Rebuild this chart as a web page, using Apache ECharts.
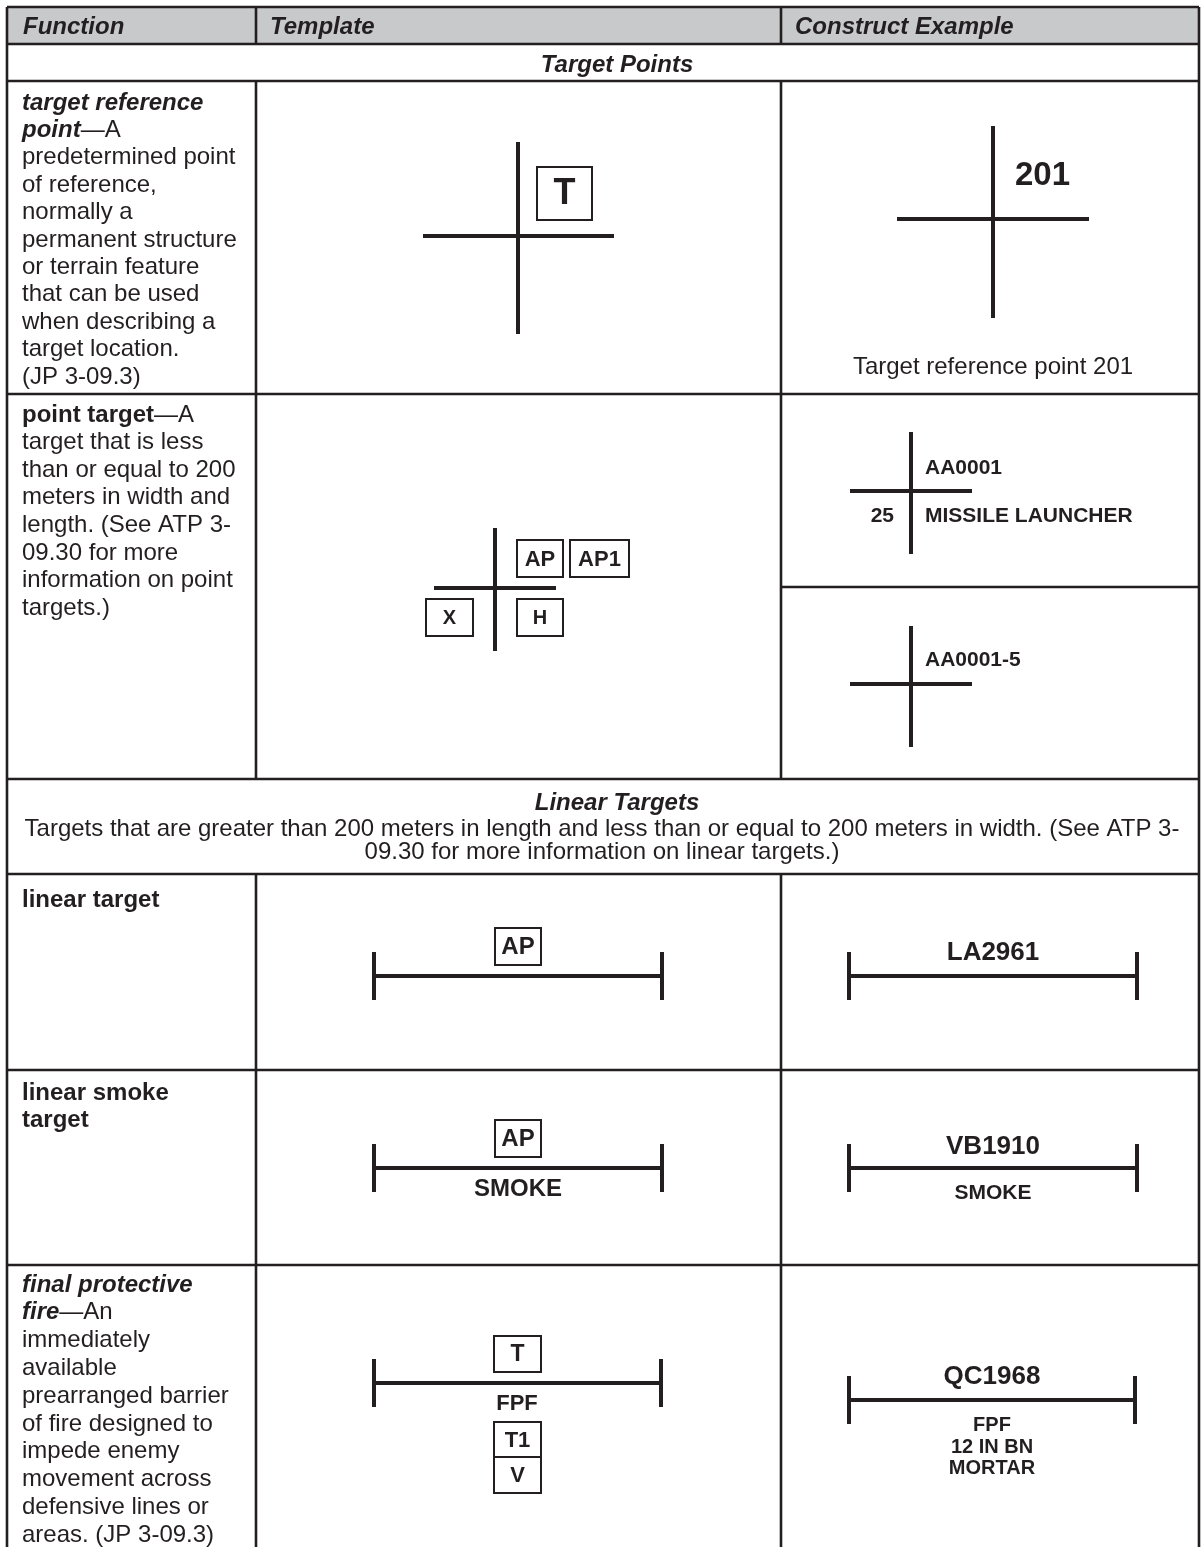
<!DOCTYPE html>
<html>
<head>
<meta charset="utf-8">
<script src="https://cdn.jsdelivr.net/npm/echarts@6/dist/echarts.min.js"></script>
<style>
html,body{margin:0;padding:0;background:#fff;}
#chart{width:1202px;height:1547px;}
</style>
</head>
<body>
<div id="chart"></div>
<script>
// ---------------- text content ----------------
const headerLabels = ['Function', 'Template', 'Construct Example'];
const sectionTitles = ['Target Points', 'Linear Targets'];
const sectionNote = [
  'Targets that are greater than 200 meters in length and less than or equal to 200 meters in width. (See ATP 3-',
  '09.30 for more information on linear targets.)'
];
const functionLines = [
  ['{bi|target reference}', '{bi|point}—A', 'predetermined point', 'of reference,', 'normally a', 'permanent structure', 'or terrain feature', 'that can be used', 'when describing a', 'target location.', '(JP 3-09.3)'],
  ['{b|point target}—A', 'target that is less', 'than or equal to 200', 'meters in width and', 'length. (See ATP 3-', '09.30 for more', 'information on point', 'targets.)'],
  ['{b|linear target}'],
  ['{b|linear smoke}', '{b|target}'],
  ['{bi|final protective}', '{bi|fire}—An', 'immediately', 'available', 'prearranged barrier', 'of fire designed to', 'impede enemy', 'movement across', 'defensive lines or', 'areas. (JP 3-09.3)']
];
const boxLabels = ['T', 'AP', 'AP1', 'X', 'H', 'AP', 'AP', 'T', 'T1', 'V'];
const markLabels = ['201', 'Target reference point 201', 'AA0001', 'MISSILE LAUNCHER', '25', 'AA0001-5',
  'LA2961', 'SMOKE', 'VB1910', 'SMOKE', 'FPF', 'QC1968', 'FPF', '12 IN BN', 'MORTAR'];

// ---------------- layout (axis units = page pixels) ----------------
const W = 1202, H = 1547;
const FONT = '"Liberation Sans", Arial, Helvetica, sans-serif';
const INK = '#231f20';
const HEADER_BG = '#c8c9cb';
const colX = [7, 256, 781, 1199];
const tableRules = [ // x1,y1,x2,y2
  [7, 7, 1199, 7], [7, 44, 1199, 44], [7, 81, 1199, 81], [7, 394, 1199, 394],
  [781, 587, 1199, 587], [7, 779, 1199, 779], [7, 874, 1199, 874], [7, 1070, 1199, 1070], [7, 1265, 1199, 1265],
  [7, 7, 7, H], [1199, 7, 1199, H],
  [256, 7, 256, 44], [256, 81, 256, 779], [256, 874, 256, H],
  [781, 7, 781, 44], [781, 81, 781, 779], [781, 874, 781, H]
];
const headerLayout = [[23, 27], [270, 27], [795, 27]];
const sectionLayout = [[617, 65], [617, 803]];
const noteLayout = [[602, 829], [602, 852]];
const functionLayout = [[22, 103, 27.4], [22, 415, 27.6], [22, 900, 27.5], [22, 1093, 27], [22, 1285, 27.8]];
const crossLayout = [ // cx, cy, left, right, top, bottom
  [518, 236, 423, 614, 142, 334],
  [993, 219, 897, 1089, 126, 318],
  [495, 588, 434, 556, 528, 651],
  [911, 491, 850, 972, 432, 554],
  [911, 684, 850, 972, 626, 747]
];
const linearLayout = [ // x1, x2, y, half tick
  [374, 662, 976, 24], [849, 1137, 976, 24],
  [374, 662, 1168, 24], [849, 1137, 1168, 24],
  [374, 661, 1383, 24], [849, 1135, 1400, 24]
];
const boxLayout = [ // x, y, w, h, fontSize
  [537, 167, 55, 53, 36], [517, 540, 46, 37, 22], [570, 540, 59, 37, 22], [426, 599, 47, 37, 20], [517, 599, 46, 37, 20],
  [495, 928, 46, 37, 24], [495, 1120, 46, 37, 24],
  [494, 1336, 47, 36, 23], [494, 1422, 47, 35, 22], [494, 1457, 47, 36, 22]
];
const markLayout = [ // x, y, align, fontSize, weight
  [1015, 176, 'left', 33, 'bold'], [993, 367, 'center', 24, 'normal'],
  [925, 468, 'left', 21, 'bold'], [925, 516, 'left', 21, 'bold'], [894, 516, 'right', 21, 'bold'], [925, 660, 'left', 21, 'bold'],
  [993, 953, 'center', 26, 'bold'], [518, 1189, 'center', 24, 'bold'], [993, 1147, 'center', 26, 'bold'], [993, 1193, 'center', 21, 'bold'],
  [517, 1404, 'center', 22, 'bold'], [992, 1377, 'center', 26, 'bold'],
  [992, 1425, 'center', 20, 'bold'], [992, 1447, 'center', 20, 'bold'], [992, 1468, 'center', 20, 'bold']
];

// ---------------- build series data ----------------
const richStyles = {
  bi: { fontFamily: FONT, fontSize: 24, fontWeight: 'bold', fontStyle: 'italic', fill: INK },
  b: { fontFamily: FONT, fontSize: 24, fontWeight: 'bold', fill: INK }
};
const texts = [];
headerLabels.forEach((t, i) => texts.push({ x: headerLayout[i][0], y: headerLayout[i][1], text: t, align: 'left', size: 24, weight: 'bold', italic: true }));
sectionTitles.forEach((t, i) => texts.push({ x: sectionLayout[i][0], y: sectionLayout[i][1], text: t, align: 'center', size: 24, weight: 'bold', italic: true }));
sectionNote.forEach((t, i) => texts.push({ x: noteLayout[i][0], y: noteLayout[i][1], text: t, align: 'center', size: 24, weight: 'normal' }));
functionLines.forEach((lines, r) => {
  const [x, y0, lh] = functionLayout[r];
  lines.forEach((t, k) => texts.push({ x: x, y: y0 + k * lh, text: t, align: 'left', size: 24, weight: 'normal', rich: true }));
});
markLabels.forEach((t, i) => {
  const m = markLayout[i];
  texts.push({ x: m[0], y: m[1], text: t, align: m[2], size: m[3], weight: m[4] });
});
boxLabels.forEach((t, i) => {
  const b = boxLayout[i];
  texts.push({ x: b[0] + b[2] / 2, y: b[1] + b[3] / 2 + 1, text: t, align: 'center', size: b[4], weight: 'bold' });
});

const symbolSegments = [];
crossLayout.forEach(c => {
  symbolSegments.push([c[2], c[1], c[3], c[1]]);
  symbolSegments.push([c[0], c[4], c[0], c[5]]);
});
linearLayout.forEach(l => {
  symbolSegments.push([l[0], l[2], l[1], l[2]]);
  symbolSegments.push([l[0], l[2] - l[3], l[0], l[2] + l[3]]);
  symbolSegments.push([l[1], l[2] - l[3], l[1], l[2] + l[3]]);
});

function segRender(width) {
  return function (params, api) {
    const p1 = api.coord([api.value(0), api.value(1)]);
    const p2 = api.coord([api.value(2), api.value(3)]);
    return { type: 'line', shape: { x1: p1[0], y1: p1[1], x2: p2[0], y2: p2[1] }, style: { stroke: INK, lineWidth: width } };
  };
}

const chart = echarts.init(document.getElementById('chart'), null, { renderer: 'canvas' });
chart.setOption({
  animation: false,
  backgroundColor: '#ffffff',
  grid: { left: 0, top: 0, right: 0, bottom: 0 },
  xAxis: { type: 'value', min: 0, max: W, show: false },
  yAxis: { type: 'value', min: 0, max: H, inverse: true, show: false },
  tooltip: { show: false },
  series: [
    { // header background
      type: 'custom', silent: true, z: 1,
      data: [[colX[0], 7, colX[3], 44]],
      encode: { x: [0, 2], y: [1, 3] },
      renderItem: function (params, api) {
        const p1 = api.coord([api.value(0), api.value(1)]);
        const p2 = api.coord([api.value(2), api.value(3)]);
        return { type: 'rect', shape: { x: p1[0], y: p1[1], width: p2[0] - p1[0], height: p2[1] - p1[1] }, style: { fill: HEADER_BG } };
      }
    },
    { // table rules
      type: 'custom', silent: true, z: 3,
      data: tableRules, encode: { x: [0, 2], y: [1, 3] },
      renderItem: segRender(2.6)
    },
    { // symbol lines
      type: 'custom', silent: true, z: 4,
      data: symbolSegments, encode: { x: [0, 2], y: [1, 3] },
      renderItem: segRender(4)
    },
    { // boxes
      type: 'custom', silent: true, z: 4,
      data: boxLayout.map(b => [b[0], b[1], b[0] + b[2], b[1] + b[3]]), encode: { x: [0, 2], y: [1, 3] },
      renderItem: function (params, api) {
        const p1 = api.coord([api.value(0), api.value(1)]);
        const p2 = api.coord([api.value(2), api.value(3)]);
        return { type: 'rect', shape: { x: p1[0], y: p1[1], width: p2[0] - p1[0], height: p2[1] - p1[1] }, style: { fill: '#fff', stroke: INK, lineWidth: 2 } };
      }
    },
    { // texts
      type: 'custom', silent: true, z: 5,
      data: texts.map(t => [t.x, t.y]), encode: { x: 0, y: 1 },
      renderItem: function (params, api) {
        const t = texts[params.dataIndex];
        const p = api.coord([api.value(0), api.value(1)]);
        const style = {
          text: t.text, x: p[0], y: p[1], fill: INK,
          fontFamily: FONT, fontSize: t.size, fontWeight: t.weight, fontStyle: t.italic ? 'italic' : 'normal',
          align: t.align, verticalAlign: 'middle'
        };
        if (t.rich) style.rich = richStyles;
        return { type: 'text', style: style };
      }
    }
  ]
});
</script>
</body>
</html>
